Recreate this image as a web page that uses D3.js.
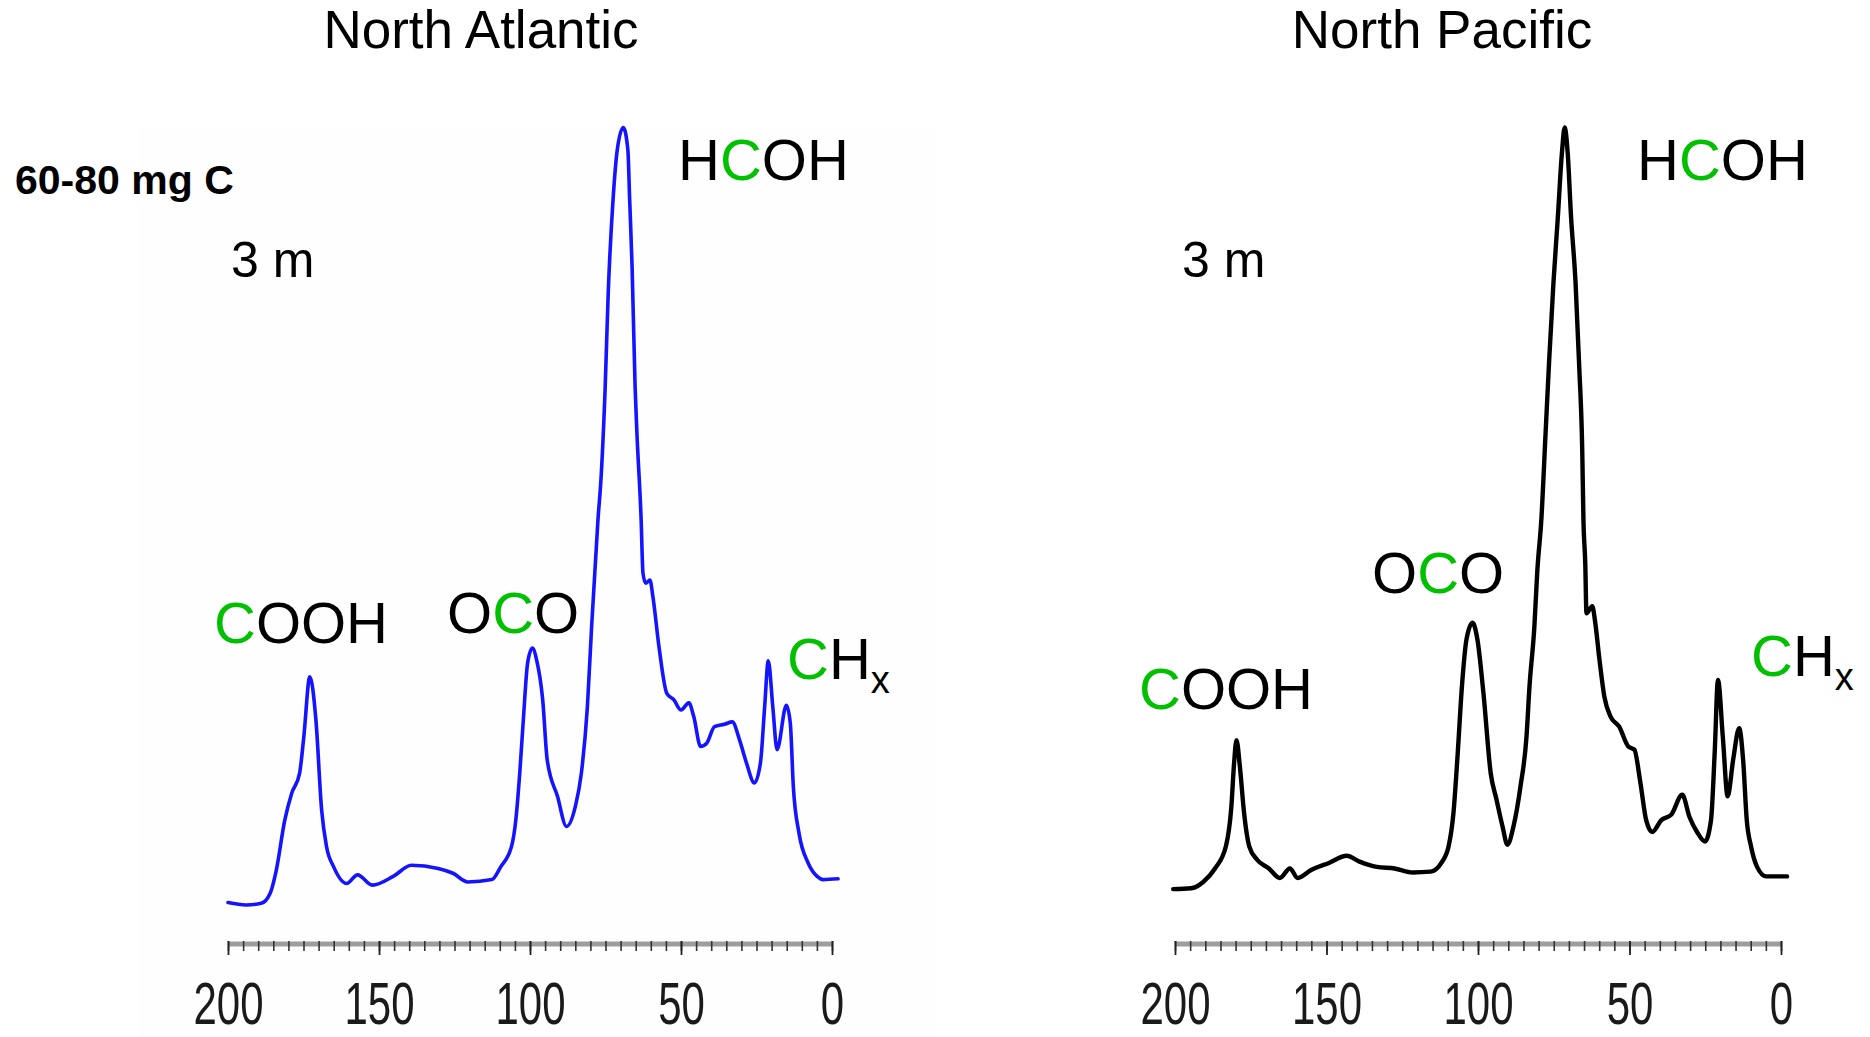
<!DOCTYPE html>
<html>
<head>
<meta charset="utf-8">
<script src="https://cdn.jsdelivr.net/npm/d3@7"></script>
<style>
  html, body { margin: 0; padding: 0; background: #fff; }
  svg { display: block; }
  text { font-family: "Liberation Sans", Arial, Helvetica, sans-serif; }
</style>
</head>
<body>
<svg id="chart" width="1870" height="1037"></svg>
<script>
// 13C NMR spectra of surface-water organic matter.
// Each point: [chemical shift (ppm), relative intensity (% of tallest peak)]
const atlanticSpectrum = [
  [200,2.2],[194,1.9],[189,2.1],[186,3.4],[184,6.3],[181.2,12.6],[178.9,16.0],[176.3,18.5],
  [174.9,23.1],[172.9,30.7],[170.9,25.3],[169.0,13.9],[167.4,9.3],[165.0,6.7],[160.7,4.6],
  [157.1,5.7],[152.2,4.4],[145.3,5.5],[139.3,6.9],[130.4,6.5],[125.5,5.9],[120.6,4.8],
  [112.6,5.1],[109.7,6.7],[106.1,9.3],[104.7,12.6],[103.4,18.5],[102.2,25.3],[100.8,32.4],
  [99.2,34.3],[97.8,32.8],[95.8,27.8],[94.3,20.2],[90.9,15.6],[87.9,11.8],[85.0,14.3],
  [83.0,18.5],[81.0,26.9],[79.6,37.0],[77.5,50.5],[76.5,55.6],[75.1,67.3],[74.1,79.1],
  [72.5,90.9],[71.1,97.2],[69.1,100],[67.6,97.2],[67.0,90.9],[66.2,82.5],[65.2,67.3],
  [64.6,61.5],[63.2,50.5],[62.6,43.8],[61.7,42.5],[60.3,42.9],[59.3,40.8],[57.3,34.5],
  [54.7,28.6],[52.4,27.8],[50.0,26.5],[47.4,27.4],[45.8,25.7],[43.5,21.9],[41.5,22.3],
  [38.9,24.4],[35.6,24.7],[33.0,25.0],[30.6,22.7],[28.3,19.8],[25.7,17.3],[23.7,19.8],
  [22.3,26.9],[21.1,32.7],[19.6,26.9],[18.2,21.5],[15.1,27.1],[13.8,24.8],[12.8,16.8],
  [10.9,10.9],[7.9,7.2],[4.9,5.5],[3.0,5.1],[-2.0,5.2]
];

const pacificSpectrum = [
  [200.6,3.9],[194.7,4.0],[190.7,4.8],[186.8,6.5],[183.2,9.3],[181.4,14.3],[180.5,19.8],
  [179.7,22.7],[178.6,19.4],[177.2,13.5],[175.5,9.3],[172.9,7.6],[169.0,6.5],[165.4,5.3],
  [162.1,6.5],[159.5,5.3],[155.1,6.3],[149.2,7.2],[143.3,8.1],[139.3,7.4],[133.4,6.7],
  [127.5,6.5],[121.5,6.0],[115.6,6.1],[112.1,7.2],[109.7,9.3],[108.1,13.5],[106.7,21.0],
  [105.3,29.5],[103.8,35.4],[101.8,37.5],[100.2,35.4],[98.2,28.6],[95.8,18.5],[93.9,15.2],
  [91.9,11.8],[90.3,9.5],[88.3,11.8],[86.0,16.8],[84.0,23.1],[83.0,29.5],[81.4,37.0],
  [80.4,44.2],[79.1,50.5],[77.7,61.4],[76.5,70.7],[75.1,80.4],[73.7,88.4],[72.3,96.8],
  [71.4,100],[70.4,96.8],[69.3,88.8],[67.8,80.4],[66.6,69.9],[65.6,59.3],[65.2,50.5],
  [64.6,45.0],[64.2,38.7],[62.3,39.6],[61.3,37.5],[59.9,32.8],[58.3,28.2],[56.3,25.7],
  [53.4,24.4],[50.4,21.9],[48.4,21.5],[46.4,17.3],[44.5,12.6],[42.5,11.1],[39.5,12.6],
  [36.2,13.3],[32.6,15.8],[30.2,13.0],[27.7,11.1],[25.1,9.9],[23.1,12.6],[21.9,21.0],
  [20.8,30.3],[19.2,23.1],[17.6,15.6],[15.8,20.2],[13.8,24.2],[12.5,20.2],[11.3,12.6],
  [9.9,9.3],[7.9,6.7],[4.9,5.5],[-2.0,5.5]
];

const shiftTicks = [200, 150, 100, 50, 0];
const minorTicks = d3.range(0, 201, 5);
const panelTitles = ["North Atlantic", "North Pacific"];
const depthLabel = "3 m";
const massLabel = "60-80 mg C";

// Functional-group labels; the carbon being assigned is flagged with c:true
const groupHCOH = [{t:"H"}, {t:"C", c:true}, {t:"OH"}];
const groupCOOH = [{t:"C", c:true}, {t:"OOH"}];
const groupOCO  = [{t:"O"}, {t:"C", c:true}, {t:"O"}];
const groupCHx  = [{t:"C", c:true}, {t:"H"}, {t:"x", sub:true}];

const GREEN = "#00c000";
const svg = d3.select("#chart");

// very faint plate behind the left spectrum
svg.append("rect")
  .attr("x", 140).attr("y", 127)
  .attr("width", 795).attr("height", 910)
  .attr("fill", "#fefefe");

const y = d3.scaleLinear().domain([0, 100]).range([920, 127.5]);

const panels = [
  {
    data: atlanticSpectrum, range: [228, 832], color: "#1414ff", strokeWidth: 3.6,
    title: panelTitles[0], titleX: 481, depthX: 231,
    labels: [
      {parts: groupHCOH, x: 678, y: 180},
      {parts: groupCOOH, x: 214, y: 643},
      {parts: groupOCO,  x: 447, y: 633},
      {parts: groupCHx,  x: 787, y: 679}
    ]
  },
  {
    data: pacificSpectrum, range: [1175, 1781], color: "#000000", strokeWidth: 4.4,
    title: panelTitles[1], titleX: 1442, depthX: 1182,
    labels: [
      {parts: groupHCOH, x: 1637, y: 180},
      {parts: groupCOOH, x: 1139, y: 709},
      {parts: groupOCO,  x: 1372, y: 593},
      {parts: groupCHx,  x: 1751, y: 676}
    ]
  }
];

panels.forEach(p => {
  const x = d3.scaleLinear().domain([200, 0]).range(p.range);

  // minor ticks plus the grey axis band
  const minorAxis = d3.axisBottom(x).tickValues(minorTicks).tickSize(10)
    .tickSizeOuter(0).tickFormat("");
  const gMinor = svg.append("g").attr("transform", "translate(0,941)").call(minorAxis);
  gMinor.select(".domain")
    .attr("stroke", "#9d9d9d").attr("stroke-width", 5)
    .attr("transform", "translate(0,2.5)");
  gMinor.selectAll(".tick line").attr("stroke", "#333").attr("stroke-width", 1.6);

  // major ticks with labels
  const majorAxis = d3.axisBottom(x).tickValues(shiftTicks).tickSize(14).tickSizeOuter(0);
  const gMajor = svg.append("g").attr("transform", "translate(0,941)").call(majorAxis);
  gMajor.select(".domain").remove();
  gMajor.selectAll(".tick line").attr("stroke", "#222").attr("stroke-width", 1.8);
  gMajor.selectAll(".tick text")
    .attr("y", 83).attr("dy", null)
    .attr("fill", "#1a1a1a")
    .attr("font-size", 60)
    .attr("font-family", "'Liberation Sans', Arial, sans-serif")
    .attr("transform", "scale(0.7,1)");

  // spectrum trace
  const line = d3.line()
    .x(d => x(d[0]))
    .y(d => y(d[1]))
    .curve(d3.curveMonotoneX);
  svg.append("path")
    .datum(p.data)
    .attr("d", line)
    .attr("fill", "none")
    .attr("stroke", p.color)
    .attr("stroke-width", p.strokeWidth)
    .attr("stroke-linejoin", "round")
    .attr("stroke-linecap", "round");

  // title and depth
  svg.append("text")
    .attr("x", p.titleX).attr("y", 48)
    .attr("text-anchor", "middle")
    .attr("font-size", 53)
    .attr("fill", "#000")
    .text(p.title);
  svg.append("text")
    .attr("x", p.depthX).attr("y", 277)
    .attr("font-size", 50)
    .attr("fill", "#000")
    .text(depthLabel);

  // functional-group labels
  p.labels.forEach(l => {
    const t = svg.append("text")
      .attr("x", l.x).attr("y", l.y)
      .attr("font-size", 58);
    l.parts.forEach(part => {
      const s = t.append("tspan")
        .attr("fill", part.c ? GREEN : "#000")
        .text(part.t);
      if (part.sub) s.attr("font-size", 38).attr("dy", 14);
    });
  });
});

svg.append("text")
  .attr("x", 15).attr("y", 194)
  .attr("font-size", 41)
  .attr("font-weight", "bold")
  .attr("fill", "#000")
  .text(massLabel);
</script>
</body>
</html>
